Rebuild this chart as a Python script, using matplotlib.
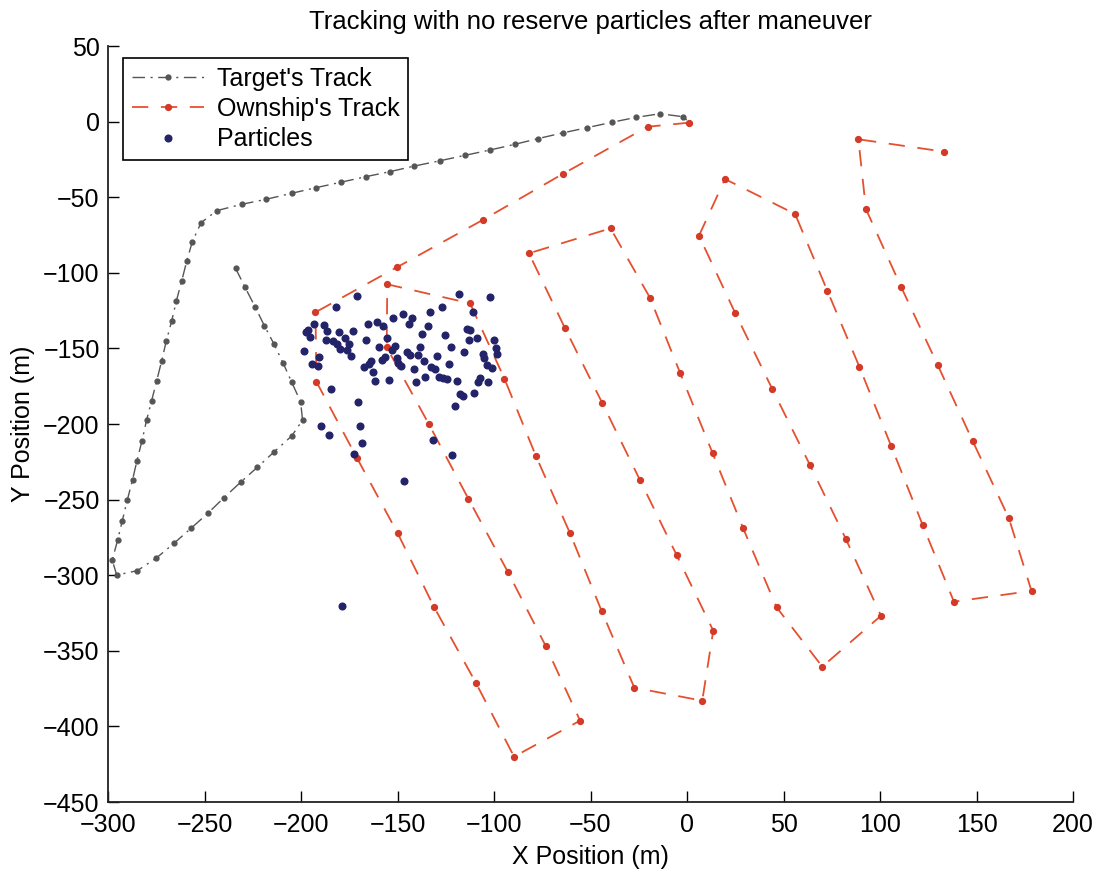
import matplotlib
matplotlib.use("Agg")
import matplotlib.pyplot as plt
import numpy as np

plt.rcParams['font.family'] = ['Liberation Sans', 'DejaVu Sans']

# Target's track (m)
target_x = [-233.9, -229.0, -223.8, -219.0, -214.0, -209.2, -204.8, -200.2, -199.2,
            -204.8, -213.8, -222.6, -231.2, -239.9, -248.3, -257.0, -265.8, -275.1, -284.8, -295.5,
            -297.8, -295.0, -292.6, -290.0, -287.3, -285.0, -282.4, -280.0,
            -277.4, -274.8, -272.2, -269.8, -267.0, -264.6, -261.8, -259.2, -256.3, -251.8,
            -243.7, -230.7, -218.1, -204.8, -192.2, -179.3, -166.3, -153.9, -141.3,
            -128.0, -115.0, -102.1, -89.1, -77.4, -64.5, -51.7, -39.1, -26.4, -14.0, -1.9, 1.2]
target_y = [-97.0, -109.6, -122.4, -135.0, -147.1, -159.9, -172.4, -185.3, -197.4,
            -207.9, -218.3, -228.6, -238.4, -248.7, -259.1, -269.0, -278.9, -288.8, -297.0, -299.9,
            -290.0, -276.7, -264.0, -250.3, -237.0, -224.3, -211.2, -197.4,
            -184.6, -171.6, -158.3, -145.1, -131.9, -118.7, -105.4, -92.2, -79.4, -66.9,
            -58.9, -54.7, -51.4, -47.4, -43.7, -40.1, -36.4, -33.1, -29.4,
            -25.9, -22.3, -18.8, -15.0, -11.3, -7.5, -4.0, -0.5, 2.8, 5.2, 3.2, -0.7]

# Ownship's track (m)
own_x = [1.2, -20.4, -64.5, -105.9, -150.1, -192.5, -192.0, -170.9, -149.9, -131.0, -109.3, -89.6,
         -55.4, -73.3, -92.7, -113.3, -133.7, -155.6, -155.3, -112.4, -94.6, -78.2, -60.6, -44.3,
         -27.3, 7.9, 13.6, -5.4, -24.4, -44.0, -63.2, -81.9, -39.6, -19.2, -3.6, 13.3, 29.1, 46.4,
         70.1, 100.5, 82.4, 63.7, 44.2, 24.9, 6.2, 19.7, 56.0, 72.7, 89.3, 105.7, 122.1, 138.3,
         178.5, 166.8, 148.0, 129.9, 110.9, 92.7, 88.8, 133.3]
own_y = [-0.7, -3.4, -34.7, -65.1, -96.2, -126.1, -172.1, -222.7, -272.3, -321.2, -371.4, -420.0,
         -396.2, -346.6, -298.1, -249.4, -200.2, -149.3, -107.6, -120.2, -170.0, -221.4, -272.3, -323.5,
         -374.4, -383.0, -336.7, -286.6, -237.0, -185.9, -136.7, -87.1, -70.6, -116.5, -166.1, -219.4, -269.0, -321.2,
         -360.5, -326.8, -276.3, -227.1, -176.9, -126.4, -75.5, -38.0, -61.1, -111.8, -162.1, -214.3, -266.8, -317.5,
         -310.4, -262.4, -211.2, -161.0, -109.2, -57.8, -11.7, -19.9]

# Particles (m)
part_x = [-171.1, -182.0, -117.9, -102.1, -127.1, -133.1, -147.0, -152.1, -142.3, -160.4,
          -165.1, -157.3, -144.2, -134.2, -111.0, -193.2, -188.1, -197.4, -196.2, -186.3,
          -180.3, -173.2, -195.3, -114.1, -112.4, -137.5, -125.4, -187.0, -183.2, -177.2,
          -181.2, -175.3, -166.3, -155.2, -113.1, -109.0, -100.0, -198.4, -179.8, -176.3,
          -174.2, -159.4, -151.1, -153.0, -138.3, -122.3, -98.9, -115.4, -145.2, -143.5,
          -190.5, -156.5, -158.2, -163.9, -150.4, -139.5, -129.3, -194.5, -191.0, -167.3,
          -164.6, -148.3, -149.5, -136.4, -105.9, -98.3, -105.2, -103.8, -101.2, -123.1,
          -141.4, -132.6, -130.6, -162.5, -161.5, -154.2, -140.6, -135.6, -128.3, -126.6,
          -124.2, -119.3, -107.2, -108.3, -103.1, -184.6, -170.4, -117.6, -116.2, -110.3,
          -120.4, -189.6, -185.5, -169.4, -168.4, -172.5, -131.4, -121.6, -146.6, -179.0]
part_y = [-115.1, -122.4, -114.2, -115.8, -122.8, -125.7, -127.2, -129.7, -129.7, -132.3,
          -134.1, -135.2, -133.9, -135.2, -126.1, -133.9, -134.7, -138.9, -137.8, -138.5,
          -139.1, -138.5, -142.7, -137.4, -137.8, -140.5, -141.3, -144.4, -144.9, -143.3,
          -147.3, -147.3, -144.4, -142.9, -144.4, -143.3, -144.4, -151.7, -150.6, -151.1,
          -155.0, -148.8, -148.2, -151.1, -149.3, -148.8, -149.5, -152.6, -152.2, -154.4,
          -155.5, -155.9, -157.7, -158.1, -156.6, -154.6, -155.0, -160.3, -161.4, -162.1,
          -160.3, -161.6, -159.4, -158.3, -153.7, -153.7, -156.6, -161.0, -163.2, -160.3,
          -163.6, -162.5, -163.4, -165.4, -171.3, -170.9, -172.0, -169.1, -168.7, -169.8,
          -170.5, -171.3, -169.8, -172.0, -172.4, -176.8, -185.2, -180.2, -181.5, -179.3,
          -188.1, -201.1, -207.3, -201.3, -212.6, -220.1, -210.6, -220.3, -237.5, -320.4]

x_ticks = [-300, -250, -200, -150, -100, -50, 0, 50, 100, 150, 200]
y_ticks = [50, 0, -50, -100, -150, -200, -250, -300, -350, -400, -450]

fig = plt.figure(figsize=(11, 8.71), dpi=100)
ax = fig.add_axes([108/1100, 1-802/871, (1073-108)/1100, (802-46)/871])

ax.plot(target_x, target_y, linestyle='-.', color='#555555', lw=1.0,
        marker='o', ms=3.5, mfc='#555555', mec='#555555', label="Target's Track",
        dashes=(9, 4, 1.5, 4))
ax.plot(own_x, own_y, linestyle='--', color='#e5502e', lw=1.3,
        marker='o', ms=4.2, mfc='#d43a28', mec='#d43a28', label="Ownship's Track",
        dashes=(9, 7))
ax.plot(part_x, part_y, linestyle='none', marker='o', ms=4.8,
        mfc='#23236a', mec='#23236a', label='Particles')

ax.set_xlim(-300, 200)
ax.set_ylim(-450, 50)
ax.set_xticks(x_ticks)
ax.set_yticks(y_ticks)
ax.set_xticklabels([str(t).replace('-', '\u2212') for t in x_ticks])
ax.set_yticklabels([str(t).replace('-', '\u2212') for t in y_ticks])
ax.tick_params(direction='in', length=8, width=1.0, labelsize=18)
ax.tick_params(axis='x', pad=8)
ax.tick_params(axis='y', pad=6)
for s in ['top', 'right']:
    ax.spines[s].set_visible(False)
for s in ['left', 'bottom']:
    ax.spines[s].set_linewidth(1.3)
    ax.spines[s].set_color('#222222')

ax.set_xlabel('X Position (m)', fontsize=18, labelpad=6)
ax.set_ylabel('Y Position (m)', fontsize=18, labelpad=6)
ax.set_title('Tracking with no reserve particles after maneuver', fontsize=18.5, pad=12)

leg = ax.legend(loc='upper left', bbox_to_anchor=(0.0155, 0.984), borderaxespad=0,
                fontsize=18, handlelength=2.9, handletextpad=0.5, labelspacing=0.25,
                fancybox=False, framealpha=1, edgecolor='black', borderpad=0.35)
leg.get_frame().set_linewidth(1.2)

fig.savefig('out.png', dpi=100)
